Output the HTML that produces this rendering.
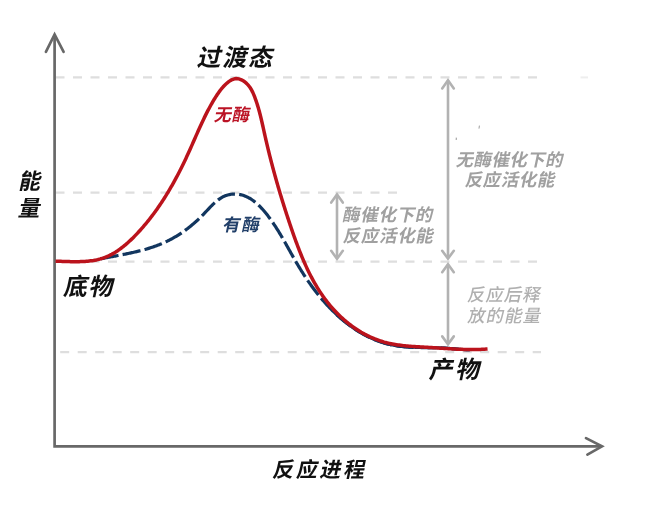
<!DOCTYPE html>
<html><head><meta charset="utf-8"><style>
html,body{margin:0;padding:0;background:#fff;}
body{width:658px;height:512px;overflow:hidden;}
svg{display:block;}
text{font-family:"Liberation Sans","Noto Sans CJK SC",sans-serif;}
</style></head><body>
<svg width="658" height="512" viewBox="0 0 658 512">
<rect width="658" height="512" fill="#fff"/>
<g stroke="#dedede" stroke-width="2.2" stroke-dasharray="9 8.5" fill="none">
<line x1="55.5" y1="77.3" x2="538.0" y2="77.3"/>
<line x1="55.5" y1="192.6" x2="397.0" y2="192.6"/>
<line x1="55.5" y1="261.6" x2="537.0" y2="261.6"/>
<line x1="60.2" y1="352.1" x2="541.0" y2="352.1"/>
</g>
<line x1="580.5" y1="77.4" x2="588" y2="77.4" stroke="#eee" stroke-width="2"/>
<line x1="479.4" y1="125.6" x2="479.0" y2="128.6" stroke="#9c9c9c" stroke-width="1"/>
<line x1="456.4" y1="137.6" x2="456.2" y2="140" stroke="#a8a8a8" stroke-width="1.2"/>
<g stroke="#686868" stroke-width="2.7" fill="none" stroke-linecap="butt" stroke-linejoin="miter">
<polyline points="54.6,35 54.6,446.4 601,446.4"/>
<polyline points="45.9,51.8 54.6,34.5 63.6,51.8" stroke-linecap="round"/>
<polyline points="586,438.1 602,446.3 587.4,454.6" stroke-linecap="round"/>
</g>
<g stroke="#b2b2b2" stroke-width="2.6" fill="none" stroke-linecap="round" stroke-linejoin="miter">
<line x1="448" y1="81" x2="448" y2="257.5"/>
<polyline points="442.2,88.4 448,80.2 453.8,88.4"/>
<polyline points="442.2,250.8 448,258.6 453.8,250.8"/>
<line x1="448" y1="265" x2="448" y2="343"/>
<polyline points="442.2,272.2 448,264.2 453.8,272.2"/>
<polyline points="442.2,336.4 448,344.2 453.8,336.4"/>
<line x1="337" y1="195" x2="337" y2="258"/>
<polyline points="331.2,202.6 337,194.4 342.8,202.6"/>
<polyline points="331.2,250.8 337,258.8 342.8,250.8"/>
</g>
<path d="M96.11,259.77L96.99,259.58 97.87,259.40 98.76,259.21 99.64,259.03 100.54,258.85 101.43,258.67 102.33,258.50 103.23,258.32 104.13,258.14 105.03,257.97 105.94,257.79 106.85,257.62 107.77,257.45 108.68,257.27 109.60,257.10 110.52,256.93 111.44,256.75 112.36,256.58 113.28,256.40 114.21,256.23 115.14,256.06 116.07,255.88 117.00,255.70 117.93,255.53 118.86,255.35 119.79,255.17 120.73,254.99 121.66,254.80 122.60,254.62 123.53,254.44 124.47,254.25 125.41,254.06 126.34,253.87 127.28,253.67 128.22,253.48 129.15,253.28 130.09,253.08 131.02,252.88 131.96,252.67 132.89,252.47 133.83,252.25 134.76,252.04 135.69,251.82 136.62,251.60 137.55,251.38 138.48,251.15 139.41,250.92 140.34,250.68 141.26,250.45 142.18,250.20 143.10,249.96 144.02,249.70 144.94,249.45 145.85,249.19 146.77,248.92 147.68,248.66 148.58,248.38 149.49,248.10 150.39,247.82 151.29,247.53 152.19,247.24 153.08,246.94 153.97,246.63 154.86,246.32 155.74,246.00 156.62,245.68 157.50,245.35 158.37,245.02 159.24,244.68 160.11,244.33 160.97,243.97 161.83,243.61 162.68,243.25 163.53,242.87 164.38,242.50 165.22,242.11 166.06,241.72 166.89,241.32 167.72,240.91 168.55,240.50 169.37,240.08 170.19,239.66 171.01,239.23 171.82,238.79 172.63,238.35 173.43,237.90 174.23,237.44 175.03,236.98 175.82,236.51 176.61,236.03 177.40,235.55 178.19,235.06 178.97,234.57 179.74,234.07 180.52,233.56 181.29,233.05 182.05,232.53 182.82,232.01 183.58,231.47 184.33,230.94 185.09,230.39 185.84,229.84 186.59,229.28 187.33,228.72 188.07,228.15 188.81,227.58 189.55,227.00 190.28,226.41 191.01,225.81 191.73,225.21 192.46,224.61 193.18,224.00 193.89,223.38 194.61,222.75 195.32,222.12 196.03,221.49 196.74,220.84 197.44,220.20 198.14,219.54 198.84,218.88 199.54,218.21 200.23,217.54 200.92,216.86 201.61,216.18 202.29,215.48 202.98,214.79 203.66,214.08 204.33,213.38 205.01,212.66 205.69,211.95 206.36,211.23 207.03,210.51 207.71,209.79 208.38,209.08 209.06,208.36 209.74,207.65 210.42,206.95 211.10,206.25 211.78,205.56 212.47,204.88 213.17,204.21 213.86,203.55 214.57,202.90 215.27,202.27 215.99,201.65 216.71,201.04 217.44,200.46 218.17,199.89 218.92,199.34 219.67,198.82 220.43,198.31 221.20,197.83 221.98,197.38 222.77,196.94 223.57,196.54 224.38,196.16 225.21,195.82 226.05,195.50 226.90,195.22 227.76,194.96 228.63,194.74 229.51,194.55 230.40,194.40 231.30,194.27 232.20,194.17 233.11,194.10 234.02,194.07 234.93,194.06 235.84,194.09 236.75,194.14 237.65,194.22 238.55,194.33 239.45,194.48 240.34,194.65 241.22,194.84 242.09,195.07 242.96,195.32 243.81,195.60 244.66,195.91 245.49,196.24 246.32,196.60 247.14,196.98 247.96,197.38 248.76,197.80 249.56,198.25 250.35,198.72 251.13,199.21 251.90,199.72 252.66,200.25 253.42,200.79 254.16,201.36 254.90,201.94 255.64,202.54 256.36,203.15 257.08,203.78 257.79,204.42 258.49,205.08 259.18,205.75 259.87,206.43 260.55,207.13 261.22,207.83 261.89,208.55 262.55,209.28 263.20,210.01 263.84,210.75 264.48,211.50 265.11,212.26 265.74,213.03 266.35,213.79 266.96,214.57 267.57,215.35 268.16,216.13 268.75,216.91 269.34,217.70 269.91,218.49 270.49,219.28 271.05,220.07 271.61,220.86 272.16,221.65 272.71,222.45 273.25,223.24 273.79,224.04 274.32,224.83 274.85,225.63 275.37,226.42 275.89,227.22 276.40,228.02 276.91,228.82 277.41,229.62 277.91,230.42 278.41,231.22 278.90,232.02 279.39,232.82 279.87,233.62 280.35,234.42 280.83,235.23 281.31,236.03 281.78,236.83 282.25,237.64 282.72,238.44 283.18,239.25 283.65,240.05 284.11,240.85 284.57,241.66 285.03,242.47 285.48,243.27 285.94,244.08 286.39,244.88 286.85,245.69 287.30,246.49 287.75,247.30 288.20,248.11 288.65,248.91 289.10,249.72 289.55,250.52 290.00,251.33 290.45,252.13 290.90,252.94 291.36,253.74 291.81,254.55 292.26,255.35 292.72,256.16 293.17,256.96 293.63,257.77 294.09,258.57 294.55,259.38 295.01,260.18 295.48,260.98 295.94,261.78 296.41,262.59 296.88,263.39 297.36,264.19 297.84,264.99 298.31,265.79 298.80,266.59 299.28,267.39 299.77,268.19 300.26,268.98 300.75,269.78 301.25,270.57 301.74,271.37 302.25,272.16 302.75,272.96 303.26,273.75 303.77,274.54 304.28,275.33 304.79,276.11 305.31,276.90 305.83,277.68 306.35,278.47 306.88,279.25 307.41,280.03 307.94,280.81 308.48,281.59 309.02,282.36 309.56,283.14 310.11,283.91 310.65,284.68 311.20,285.45 311.76,286.21 312.32,286.98 312.88,287.74 313.44,288.50 314.01,289.26 314.58,290.02 315.15,290.77 315.73,291.52 316.31,292.27 316.89,293.02 317.48,293.76 318.07,294.50 318.66,295.24 319.26,295.98 319.86,296.72 320.46,297.45 321.07,298.18 321.68,298.90 322.30,299.62 322.92,300.35 323.54,301.06 324.16,301.78 324.79,302.49 325.42,303.20 326.06,303.90 326.70,304.60 327.34,305.30 327.99,306.00 328.64,306.69 329.30,307.38 329.95,308.06 330.62,308.74 331.28,309.42 331.95,310.10 332.62,310.77 333.30,311.43 333.98,312.09 334.66,312.75 335.35,313.41 336.04,314.06 336.74,314.70 337.43,315.34 338.14,315.98 338.84,316.62 339.55,317.24 340.26,317.87 340.98,318.49 341.70,319.10 342.42,319.71 343.15,320.32 343.88,320.92 344.61,321.51 345.34,322.10 346.08,322.69 346.83,323.27 347.58,323.84 348.33,324.41 349.08,324.97 349.84,325.53 350.60,326.08 351.36,326.63 352.13,327.17 352.90,327.71 353.67,328.24 354.45,328.76 355.23,329.28 356.01,329.79 356.80,330.30 357.59,330.80 358.38,331.29 359.18,331.78 359.98,332.26 360.78,332.73 361.59,333.20 362.40,333.66 363.21,334.12 364.03,334.56 364.85,335.00 365.67,335.44 366.50,335.87 367.33,336.29 368.16,336.70 368.99,337.10 369.83,337.50 370.67,337.90 371.52,338.28 372.36,338.66 373.21,339.03 374.07,339.39 374.92,339.74 375.78,340.09 376.65,340.43 377.51,340.76 378.38,341.08 379.25,341.39 380.13,341.70 381.01,342.00 381.89,342.29 382.77,342.57 383.66,342.85 384.55,343.11 385.44,343.37 386.34,343.62 387.23,343.86 388.13,344.09 389.04,344.31 389.95,344.52 390.86,344.73 391.77,344.92 392.68,345.11 393.60,345.29 394.52,345.46 395.45,345.62 396.37,345.77 397.30,345.91 398.24,346.05 399.17,346.17 400.10,346.29 401.04,346.41 401.98,346.51 402.93,346.61 403.87,346.70 404.81,346.79 405.76,346.87 406.71,346.94 407.66,347.01 408.61,347.07 409.57,347.13 410.52,347.19 411.48,347.24 412.43,347.28 413.39,347.32 414.35,347.36 415.30,347.39 416.26,347.42 417.22,347.45 418.18,347.48 419.14,347.50 420.10,347.52 421.07,347.54 422.03,347.55 422.99,347.57 423.95,347.58 424.91,347.60 425.87,347.61 426.83,347.62 427.79,347.64 428.74,347.65 429.70,347.66 430.66,347.67 431.61,347.69 432.57,347.70 433.52,347.72 434.47,347.74 435.42,347.76 436.37,347.78 437.32,347.81 438.27,347.83 439.21,347.86 440.16,347.90 441.10,347.94 442.04,347.98 442.97,348.02 443.91,348.07 444.84,348.12 445.77,348.18 446.70,348.24 447.62,348.31 448.55,348.38 449.47,348.45 450.39,348.52 451.31,348.60 452.23,348.67 453.15,348.75 454.07,348.83 454.99,348.90 455.91,348.98 456.83,349.05 457.75,349.13 458.67,349.20 459.59,349.27 460.51,349.33 461.44,349.40 462.36,349.46 463.29,349.51 464.22,349.56 465.15,349.61 466.08,349.65 467.02,349.68 467.96,349.71 468.90,349.73 469.84,349.74" fill="none" stroke="#12365f" stroke-width="3.2" stroke-dasharray="18.3 4.2" stroke-dashoffset="18"/>
<path d="M333.30,311.43L333.98,312.09 334.66,312.75 335.35,313.41 336.04,314.06 336.74,314.70 337.43,315.34 338.14,315.98 338.84,316.62 339.55,317.24 340.26,317.87 340.98,318.49 341.70,319.10 342.42,319.71 343.15,320.32 343.88,320.92 344.61,321.51 345.34,322.10 346.08,322.69 346.83,323.27 347.58,323.84 348.33,324.41 349.08,324.97 349.84,325.53 350.60,326.08 351.36,326.63 352.13,327.17 352.90,327.71 353.67,328.24 354.45,328.76 355.23,329.28 356.01,329.79 356.80,330.30 357.59,330.80 358.38,331.29 359.18,331.78 359.98,332.26 360.78,332.73 361.59,333.20 362.40,333.66 363.21,334.12 364.03,334.56 364.85,335.00 365.67,335.44 366.50,335.87 367.33,336.29 368.16,336.70 368.99,337.10 369.83,337.50 370.67,337.90 371.52,338.28 372.36,338.66 373.21,339.03 374.07,339.39 374.92,339.74 375.78,340.09 376.65,340.43 377.51,340.76 378.38,341.08 379.25,341.39 380.13,341.70 381.01,342.00 381.89,342.29 382.77,342.57 383.66,342.85 384.55,343.11 385.44,343.37 386.34,343.62 387.23,343.86 388.13,344.09 389.04,344.31 389.95,344.52 390.86,344.73 391.77,344.92 392.68,345.11 393.60,345.29 394.52,345.46 395.45,345.62 396.37,345.77 397.30,345.91 398.24,346.05 399.17,346.17 400.10,346.29 401.04,346.41 401.98,346.51 402.93,346.61 403.87,346.70 404.81,346.79 405.76,346.87 406.71,346.94 407.66,347.01 408.61,347.07 409.57,347.13 410.52,347.19 411.48,347.24 412.43,347.28 413.39,347.32 414.35,347.36 415.30,347.39 416.26,347.42 417.22,347.45 418.18,347.48 419.14,347.50 420.10,347.52 421.07,347.54 422.03,347.55 422.99,347.57 423.95,347.58 424.91,347.60 425.87,347.61 426.83,347.62 427.79,347.64 428.74,347.65 429.70,347.66 430.66,347.67 431.61,347.69 432.57,347.70 433.52,347.72 434.47,347.74 435.42,347.76 436.37,347.78 437.32,347.81 438.27,347.83 439.21,347.86 440.16,347.90 441.10,347.94 442.04,347.98 442.97,348.02 443.91,348.07 444.84,348.12 445.77,348.18 446.70,348.24 447.62,348.31 448.55,348.38 449.47,348.45 450.39,348.52 451.31,348.60 452.23,348.67 453.15,348.75 454.07,348.83 454.99,348.90 455.91,348.98 456.83,349.05 457.75,349.13 458.67,349.20 459.59,349.27 460.51,349.33 461.44,349.40 462.36,349.46 463.29,349.51 464.22,349.56 465.15,349.61 466.08,349.65 467.02,349.68 467.96,349.71 468.90,349.73 469.84,349.74" fill="none" stroke="#12365f" stroke-width="3"/>
<path d="M55.61,261.19L56.92,261.22 58.24,261.26 59.57,261.30 60.92,261.34 62.28,261.39 63.65,261.43 65.03,261.48 66.43,261.52 67.83,261.57 69.24,261.61 70.65,261.64 72.07,261.66 73.50,261.68 74.93,261.69 76.36,261.69 77.80,261.68 79.24,261.65 80.68,261.62 82.11,261.56 83.55,261.49 84.98,261.41 86.41,261.30 87.84,261.17 89.26,261.03 90.67,260.86 92.08,260.66 93.47,260.45 94.86,260.20 96.24,259.93 97.61,259.63 98.97,259.30 100.31,258.94 101.64,258.55 102.96,258.12 104.26,257.66 105.54,257.17 106.81,256.65 108.07,256.10 109.32,255.51 110.55,254.90 111.76,254.27 112.97,253.60 114.16,252.91 115.34,252.20 116.50,251.46 117.66,250.70 118.80,249.91 119.93,249.11 121.05,248.28 122.15,247.44 123.25,246.57 124.34,245.69 125.41,244.80 126.48,243.89 127.53,242.96 128.57,242.02 129.61,241.06 130.64,240.10 131.65,239.12 132.66,238.13 133.66,237.14 134.65,236.13 135.63,235.12 136.61,234.10 137.57,233.08 138.53,232.05 139.48,231.01 140.43,229.97 141.36,228.92 142.29,227.87 143.21,226.81 144.12,225.74 145.03,224.67 145.93,223.60 146.82,222.51 147.70,221.43 148.58,220.34 149.45,219.24 150.32,218.14 151.17,217.03 152.02,215.92 152.87,214.81 153.70,213.68 154.53,212.56 155.35,211.43 156.17,210.29 156.98,209.15 157.79,208.01 158.58,206.86 159.37,205.71 160.16,204.55 160.94,203.39 161.71,202.23 162.48,201.06 163.24,199.89 163.99,198.71 164.74,197.53 165.49,196.34 166.23,195.16 166.96,193.96 167.69,192.77 168.41,191.57 169.12,190.37 169.83,189.16 170.54,187.95 171.24,186.74 171.93,185.53 172.62,184.31 173.31,183.09 173.99,181.86 174.66,180.63 175.33,179.40 176.00,178.17 176.66,176.94 177.32,175.70 177.97,174.46 178.61,173.21 179.26,171.97 179.89,170.72 180.53,169.47 181.16,168.22 181.78,166.96 182.40,165.71 183.02,164.45 183.63,163.19 184.24,161.93 184.85,160.66 185.45,159.40 186.05,158.13 186.64,156.86 187.23,155.59 187.82,154.32 188.40,153.04 188.98,151.77 189.56,150.49 190.13,149.21 190.70,147.94 191.27,146.66 191.84,145.38 192.40,144.10 192.97,142.82 193.53,141.54 194.09,140.26 194.65,138.98 195.22,137.70 195.78,136.42 196.34,135.14 196.91,133.86 197.47,132.58 198.04,131.31 198.61,130.03 199.18,128.76 199.75,127.49 200.33,126.22 200.91,124.95 201.49,123.68 202.08,122.42 202.67,121.16 203.27,119.90 203.87,118.64 204.48,117.39 205.09,116.13 205.71,114.89 206.33,113.64 206.96,112.40 207.60,111.16 208.25,109.93 208.90,108.70 209.56,107.47 210.23,106.25 210.90,105.03 211.59,103.82 212.29,102.61 212.99,101.41 213.70,100.21 214.43,99.01 215.16,97.82 215.91,96.64 216.67,95.46 217.44,94.30 218.23,93.14 219.04,91.99 219.87,90.86 220.73,89.75 221.61,88.65 222.52,87.58 223.47,86.53 224.44,85.50 225.46,84.50 226.51,83.53 227.61,82.59 228.74,81.69 229.91,80.87 231.12,80.14 232.35,79.52 233.61,79.05 234.90,78.73 236.20,78.59 237.52,78.65 238.85,78.89 240.17,79.30 241.46,79.85 242.73,80.53 243.96,81.31 245.12,82.18 246.23,83.12 247.25,84.11 248.20,85.15 249.08,86.23 249.89,87.34 250.65,88.49 251.36,89.67 252.01,90.88 252.63,92.11 253.20,93.37 253.75,94.63 254.27,95.92 254.77,97.21 255.26,98.51 255.73,99.82 256.19,101.13 256.63,102.45 257.06,103.77 257.48,105.10 257.89,106.44 258.28,107.78 258.67,109.12 259.04,110.47 259.41,111.82 259.77,113.18 260.12,114.54 260.46,115.90 260.80,117.27 261.13,118.63 261.45,120.00 261.77,121.38 262.09,122.75 262.40,124.12 262.71,125.50 263.02,126.88 263.32,128.25 263.63,129.63 263.93,131.00 264.23,132.38 264.54,133.75 264.85,135.13 265.15,136.50 265.47,137.87 265.78,139.24 266.09,140.61 266.41,141.97 266.73,143.34 267.05,144.70 267.38,146.07 267.70,147.43 268.03,148.79 268.36,150.14 268.69,151.50 269.03,152.86 269.36,154.21 269.70,155.57 270.04,156.92 270.38,158.27 270.73,159.62 271.08,160.97 271.43,162.32 271.78,163.67 272.13,165.02 272.49,166.36 272.84,167.71 273.20,169.05 273.57,170.39 273.93,171.74 274.30,173.08 274.66,174.42 275.03,175.76 275.41,177.10 275.78,178.44 276.16,179.78 276.54,181.12 276.92,182.45 277.30,183.79 277.69,185.12 278.07,186.46 278.46,187.79 278.85,189.13 279.25,190.46 279.64,191.80 280.04,193.13 280.44,194.46 280.84,195.79 281.25,197.13 281.66,198.46 282.06,199.79 282.47,201.12 282.89,202.45 283.30,203.78 283.72,205.11 284.14,206.45 284.56,207.78 284.98,209.11 285.41,210.44 285.84,211.77 286.27,213.10 286.70,214.43 287.13,215.76 287.57,217.09 288.01,218.42 288.45,219.75 288.89,221.08 289.33,222.41 289.78,223.74 290.23,225.07 290.68,226.41 291.13,227.74 291.59,229.07 292.04,230.40 292.50,231.73 292.97,233.07 293.43,234.40 293.90,235.73 294.37,237.06 294.85,238.39 295.33,239.72 295.81,241.04 296.30,242.37 296.79,243.69 297.28,245.02 297.78,246.34 298.28,247.66 298.79,248.97 299.30,250.29 299.82,251.60 300.34,252.91 300.87,254.22 301.40,255.53 301.94,256.83 302.48,258.13 303.03,259.42 303.59,260.72 304.15,262.01 304.71,263.29 305.29,264.58 305.87,265.86 306.46,267.13 307.05,268.40 307.65,269.67 308.26,270.93 308.87,272.19 309.50,273.44 310.13,274.69 310.77,275.93 311.41,277.17 312.07,278.41 312.73,279.63 313.40,280.86 314.08,282.07 314.77,283.28 315.46,284.49 316.17,285.69 316.88,286.88 317.61,288.07 318.34,289.25 319.08,290.42 319.84,291.59 320.60,292.75 321.37,293.90 322.16,295.05 322.95,296.19 323.75,297.32 324.57,298.44 325.39,299.56 326.23,300.67 327.08,301.77 327.93,302.86 328.80,303.94 329.69,305.02 330.58,306.09 331.48,307.14 332.40,308.19 333.33,309.23 334.27,310.26 335.22,311.28 336.18,312.29 337.16,313.30 338.14,314.29 339.14,315.27 340.15,316.23 341.17,317.19 342.20,318.14 343.24,319.07 344.29,319.99 345.35,320.91 346.42,321.80 347.50,322.69 348.59,323.56 349.70,324.42 350.81,325.26 351.93,326.10 353.06,326.91 354.20,327.72 355.35,328.51 356.51,329.28 357.68,330.04 358.86,330.78 360.05,331.51 361.24,332.23 362.45,332.92 363.66,333.60 364.88,334.27 366.11,334.92 367.35,335.55 368.60,336.16 369.86,336.75 371.12,337.33 372.39,337.89 373.67,338.43 374.96,338.96 376.26,339.46 377.56,339.94 378.87,340.41 380.19,340.86 381.51,341.28 382.84,341.69 384.18,342.08 385.53,342.44 386.88,342.79 388.24,343.11 389.61,343.42 390.98,343.71 392.35,343.98 393.73,344.23 395.12,344.47 396.51,344.70 397.91,344.91 399.30,345.10 400.71,345.29 402.11,345.46 403.52,345.62 404.93,345.77 406.34,345.91 407.75,346.04 409.17,346.16 410.59,346.27 412.00,346.38 413.42,346.48 414.84,346.58 416.26,346.67 417.68,346.76 419.09,346.85 420.51,346.93 421.92,347.01 423.34,347.09 424.75,347.17 426.15,347.25 427.56,347.34 428.96,347.42 430.36,347.51 431.76,347.60 433.15,347.69 434.54,347.78 435.93,347.87 437.32,347.96 438.71,348.05 440.09,348.15 441.47,348.24 442.86,348.33 444.24,348.42 445.62,348.51 446.99,348.60 448.37,348.68 449.75,348.76 451.13,348.84 452.51,348.92 453.89,349.00 455.26,349.07 456.64,349.13 458.02,349.20 459.41,349.25 460.79,349.31 462.17,349.36 463.56,349.40 464.94,349.44 466.33,349.47 467.73,349.49 469.12,349.51 470.52,349.53 471.91,349.53 473.32,349.53 474.72,349.52 476.13,349.50 477.54,349.47 478.96,349.44 480.38,349.39 481.80,349.34 483.23,349.27 484.66,349.20 486.10,349.12 487.54,349.02" fill="none" stroke="#bb131c" stroke-width="3.5"/>
<text transform="translate(196.6,66.4) skewX(-12)" font-size="24" font-weight="700" letter-spacing="1.7" fill="#111">过渡态</text>
<text transform="translate(213.4,121.4) skewX(-12)" font-size="17.5" font-weight="700" letter-spacing="0.7" fill="#bb1325">无酶</text>
<text transform="translate(222.1,230.6) skewX(-12)" font-size="17.5" font-weight="700" letter-spacing="1.7" fill="#213f69">有酶</text>
<text transform="translate(18.0,188.6) skewX(-12)" font-size="22" font-weight="700" letter-spacing="0" fill="#111">能</text>
<text transform="translate(17.4,216.2) skewX(-12)" font-size="22" font-weight="700" letter-spacing="0" fill="#111">量</text>
<text transform="translate(62.7,295.0) skewX(-12)" font-size="24" font-weight="700" letter-spacing="1.5" fill="#111">底物</text>
<text transform="translate(428.6,378.0) skewX(-12)" font-size="24" font-weight="700" letter-spacing="2.5" fill="#111">产物</text>
<text transform="translate(272.0,477.2) skewX(-12)" font-size="21" font-weight="700" letter-spacing="2.7" fill="#111">反应进程</text>
<text transform="translate(342.1,221.0) skewX(-12)" font-size="17.5" font-weight="700" letter-spacing="0.7" fill="#a0a0a0">酶催化下的</text>
<text transform="translate(342.6,242.0) skewX(-12)" font-size="17.5" font-weight="700" letter-spacing="0.7" fill="#a0a0a0">反应活化能</text>
<text transform="translate(455.6,165.6) skewX(-12)" font-size="17.5" font-weight="700" letter-spacing="0.4" fill="#a0a0a0">无酶催化下的</text>
<text transform="translate(464.5,186.4) skewX(-12)" font-size="17.5" font-weight="700" letter-spacing="0.6" fill="#a0a0a0">反应活化能</text>
<text transform="translate(466.8,301.2) skewX(-12)" font-size="17.5" font-weight="500" letter-spacing="0.9" fill="#b0b0b0">反应后释</text>
<text transform="translate(467.1,322.0) skewX(-12)" font-size="17.5" font-weight="500" letter-spacing="1.0" fill="#b0b0b0">放的能量</text>
</svg>
</body></html>
